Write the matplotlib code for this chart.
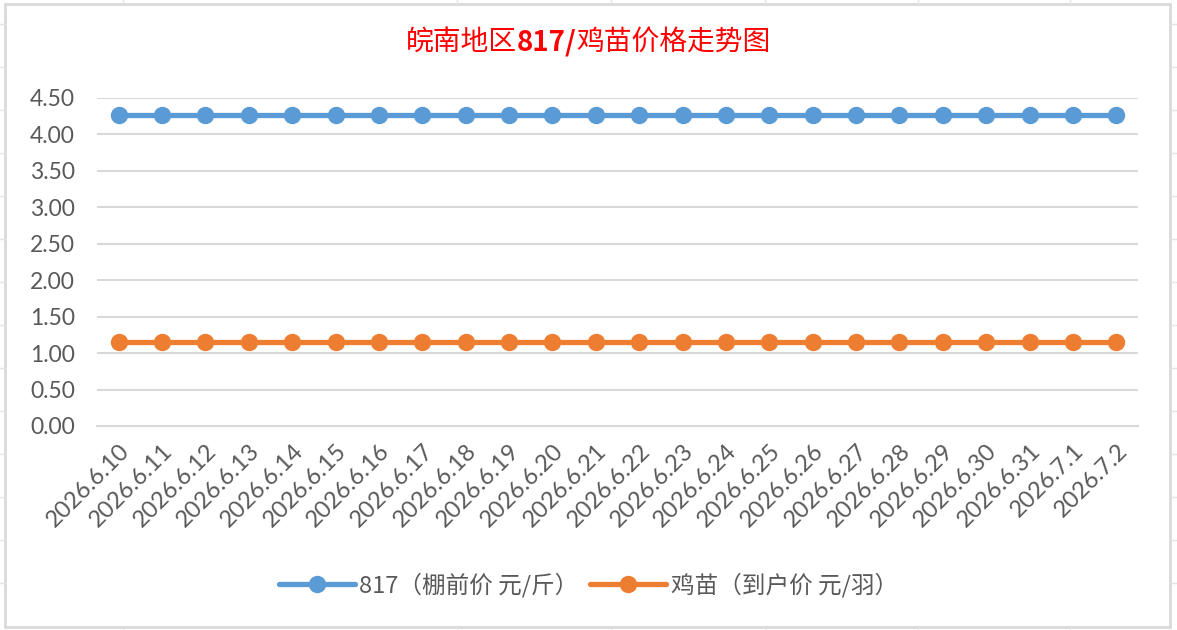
import matplotlib
matplotlib.use("Agg")
import matplotlib.pyplot as plt
from matplotlib.patches import Rectangle
from matplotlib.lines import Line2D

# 数据
dates = ["2026.6.10", "2026.6.11", "2026.6.12", "2026.6.13", "2026.6.14",
         "2026.6.15", "2026.6.16", "2026.6.17", "2026.6.18", "2026.6.19",
         "2026.6.20", "2026.6.21", "2026.6.22", "2026.6.23", "2026.6.24",
         "2026.6.25", "2026.6.26", "2026.6.27", "2026.6.28", "2026.6.29",
         "2026.6.30", "2026.6.31", "2026.7.1", "2026.7.2"]
price_817 = [4.26] * len(dates)
price_chick = [1.15] * len(dates)
y_ticks = [0.0, 0.5, 1.0, 1.5, 2.0, 2.5, 3.0, 3.5, 4.0, 4.5]

plt.rcParams['font.family'] = ['Noto Sans CJK SC', 'DejaVu Sans']
num_font = ["Lato", "DejaVu Sans"]

W, H = 1177, 630
fig = plt.figure(figsize=(W / 100, H / 100), dpi=100)

# 表格背景的浅色单元格线
sheet_c = "#e3e3e3"
for yy in [24, 67, 110, 153, 196, 239, 282, 325, 368, 411, 454, 497, 540, 583]:
    fig.add_artist(Line2D([0, 5 / W], [1 - yy / H] * 2, color=sheet_c, lw=1))
    fig.add_artist(Line2D([1171 / W, 1], [1 - yy / H] * 2, color=sheet_c, lw=1))
for xx in [123, 457, 611, 765, 918, 1070]:
    fig.add_artist(Line2D([xx / W] * 2, [1, 1 - 4 / H], color=sheet_c, lw=1))
    fig.add_artist(Line2D([xx / W] * 2, [0, 3 / H], color=sheet_c, lw=1))

# 图表边框
fig.add_artist(Rectangle((5 / W, 3 / H), 1165 / W, 623 / H, fill=False,
                         edgecolor="#d9d9d9", lw=2, transform=fig.transFigure))

ax = fig.add_axes([97 / W, 1 - 426 / H, 1041 / W, 328 / H])
x = list(range(len(dates)))
ax.plot(x, price_817, color="#5B9BD5", lw=3.8, marker="o", markersize=11.5,
        label="817（棚前价 元/斤）", solid_capstyle="round")
ax.plot(x, price_chick, color="#ED7D31", lw=3.8, marker="o", markersize=11.5,
        label="鸡苗（到户价 元/羽）", solid_capstyle="round")

ax.set_xlim(-0.5, len(dates) - 0.5)
ax.set_ylim(0, 4.5)
ax.set_yticks(y_ticks)
ax.set_yticklabels([f"{v:.2f}" for v in y_ticks], fontsize=16.5, color="#595959",
                   family=num_font)
ax.set_xticks(x)
ax.set_xticklabels(dates, rotation=45, ha="right", rotation_mode="anchor",
                   fontsize=17, color="#595959", family=num_font)
ax.tick_params(axis="y", length=0, pad=16)
ax.tick_params(axis="x", length=0, pad=10)
ax.grid(axis="y", color="#d9d9d9", lw=1.5)
ax.set_axisbelow(True)
for s in ["top", "right", "left"]:
    ax.spines[s].set_visible(False)
ax.spines["bottom"].set_color("#d9d9d9")
ax.spines["bottom"].set_linewidth(1.5)

# 标题（"817/" 为粗体），居中于 x=588
ty = 1 - 42 / H
t1 = fig.text(0, ty, "皖南地区", color="red", fontsize=20, va="center")
t2 = fig.text(0, ty, "817/", color="red", fontsize=20, va="center", fontweight="bold")
t3 = fig.text(0, ty, "鸡苗价格走势图", color="red", fontsize=20, va="center")
fig.canvas.draw()
r = fig.canvas.get_renderer()
b1 = t1.get_window_extent(r)
t2.set_position((b1.x1 / W, ty))
b2 = t2.get_window_extent(r)
t3.set_position((b2.x1 / W, ty))
b3 = t3.get_window_extent(r)
shift = (588 - (b1.x0 + b3.x1) / 2) / W
for t in (t1, t2, t3):
    px, py = t.get_position()
    t.set_position((px + shift, py))

fig.legend(loc="center", bbox_to_anchor=(0.5, 1 - 585 / H), ncol=2, frameon=False,
           fontsize=17, labelcolor="#595959", handlelength=3.2, columnspacing=0.5,
           handletextpad=0.2)

fig.savefig("out.png", dpi=100)
